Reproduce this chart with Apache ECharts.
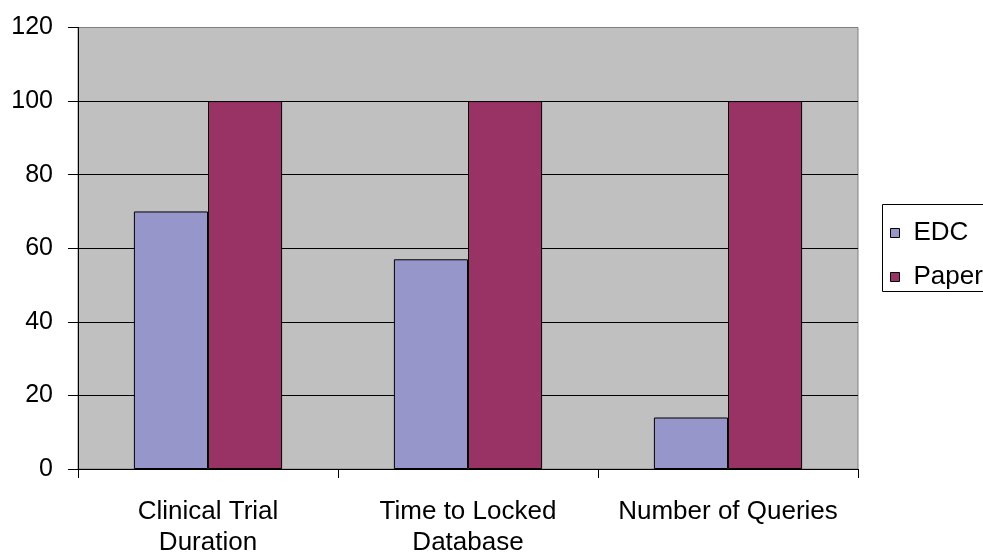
<!DOCTYPE html>
<html>
<head>
<meta charset="utf-8">
<script src="https://cdn.jsdelivr.net/npm/echarts@6/dist/echarts.min.js"></script>
<style>
  html, body { margin: 0; padding: 0; background: #fff; }
  #chart { width: 983px; height: 555px; }
</style>
</head>
<body>
<div id="chart"></div>
<script>
// Categories and values (percent, paper process = 100)
var categories = ['Clinical Trial\nDuration', 'Time to Locked\nDatabase', 'Number of Queries'];
var edcValues = [70, 57, 14];
var paperValues = [100, 100, 100];
var seriesNames = ['EDC', 'Paper'];

var FONT = '"Liberation Sans", Arial, sans-serif';

var chart = echarts.init(document.getElementById('chart'));
chart.setOption({
  backgroundColor: '#ffffff',
  animation: false,
  grid: {
    left: 78, right: 125, top: 27.5, bottom: 86,
    outerBoundsMode: 'none',
    containLabel: false,
    show: true,
    backgroundColor: '#C0C0C0',
    borderColor: '#808080',
    borderWidth: 1
  },
  legend: {
    orient: 'vertical',
    left: 885, top: 215,
    itemWidth: 9, itemHeight: 9,
    itemGap: 18,
    icon: 'rect',
    data: seriesNames.map(function (n) {
      return { name: n, itemStyle: { borderColor: '#000', borderWidth: 1 } };
    }),
    textStyle: { fontFamily: FONT, fontSize: 26, color: '#000', lineHeight: 26, padding: [0, 0, 0, 9] }
  },
  graphic: [{
    type: 'rect',
    shape: { x: 882.5, y: 204.5, width: 140, height: 87 },
    style: { fill: 'none', stroke: '#000', lineWidth: 1 },
    z: 100
  }],
  xAxis: {
    type: 'category',
    data: categories,
    axisLine: { lineStyle: { color: '#000', width: 1 } },
    axisTick: { show: true, length: 9, lineStyle: { color: '#000' } },
    axisLabel: {
      interval: 0, margin: 27,
      fontFamily: FONT, fontSize: 26, color: '#000', lineHeight: 31, align: 'center'
    }
  },
  yAxis: {
    type: 'value',
    min: 0, max: 120, interval: 20,
    axisLine: { show: true, lineStyle: { color: '#000', width: 1 } },
    axisTick: { show: true, length: 10, lineStyle: { color: '#000' } },
    axisLabel: { margin: 25, fontFamily: FONT, fontSize: 25, color: '#000' },
    splitLine: { show: true, showMaxLine: false, lineStyle: { color: '#000', width: 1 } }
  },
  series: [{
    name: seriesNames[0],
    type: 'bar',
    data: edcValues,
    barGap: '0%',
    barCategoryGap: '43%',
    itemStyle: { color: '#9696CA', borderColor: '#000', borderWidth: 1 }
  }, {
    name: seriesNames[1],
    type: 'bar',
    data: paperValues,
    barGap: '0%',
    barCategoryGap: '43%',
    itemStyle: { color: '#993366', borderColor: '#000', borderWidth: 1 }
  }]
});
</script>
</body>
</html>
